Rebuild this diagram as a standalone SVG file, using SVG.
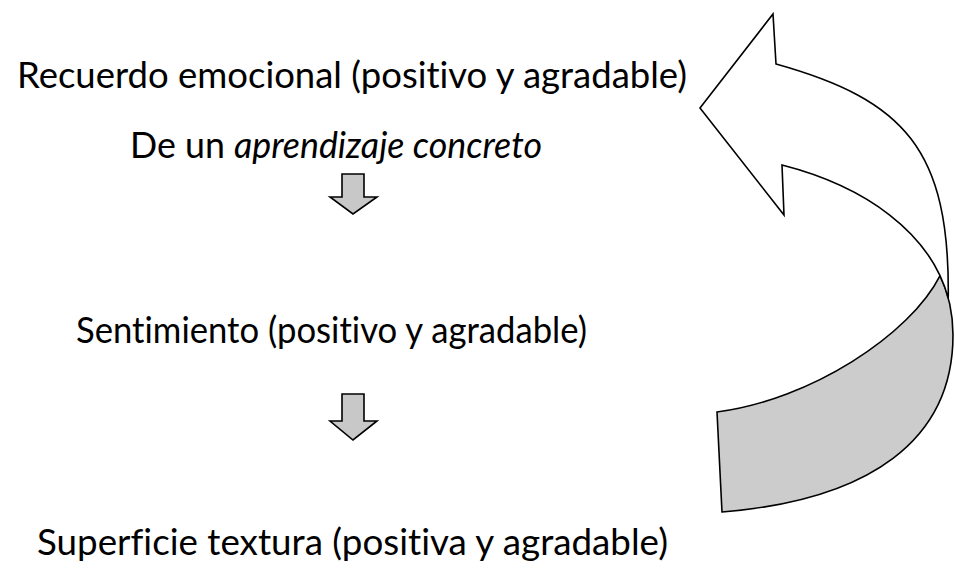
<svg xmlns="http://www.w3.org/2000/svg" width="955" height="570" viewBox="0 0 955 570">
<style>
.t{font-family:Lato,"Liberation Sans",sans-serif;font-size:37px;fill:#000;font-variant-ligatures:none;font-feature-settings:"liga" 0}
.i{font-style:italic}
.sh{stroke:#000;stroke-width:1.6;stroke-linejoin:miter}
</style>
<rect width="955" height="570" fill="#fff"/>
<g id="n1"><text class="t" x="17" y="88" textLength="670" lengthAdjust="spacingAndGlyphs">Recuerdo emocional (positivo y agradable)</text></g>
<g id="n2"><text class="t" x="130" y="158" textLength="412" lengthAdjust="spacingAndGlyphs">De un <tspan class="i">aprendizaje concreto</tspan></text></g>
<g id="n3"><text class="t" x="76" y="343" style="font-size:36px" textLength="511" lengthAdjust="spacingAndGlyphs">Sentimiento (positivo y agradable)</text></g>
<g id="n4"><text class="t" x="37" y="555" textLength="631" lengthAdjust="spacingAndGlyphs">Superficie textura (positiva y agradable)</text></g>
<g id="connectors">
<path class="sh" fill="#c8c8c8" d="M342,174 L364,174 L364,197 L377,197 L353,214 L330,197 L342,197 Z"/>
<path class="sh" fill="#c8c8c8" d="M342,394 L364,394 L364,421 L377,421 L353,440 L330,421 L342,421 Z"/>
<path class="sh" fill="#cccccc" d="M940.07,275.53 C910,335 810,400 717,412 L722,512 C870,500 953,440 953,335 C953,313.75 948.44,293.31 940.07,275.53 Z"/>
<path class="sh" fill="#fff" d="M700,108 L773,14 L776,64 C905,100 950,150 948.24,298.06 C930.5,232.75 865.3,186.25 782,165 L784,215 Z"/>
</g>
</svg>
